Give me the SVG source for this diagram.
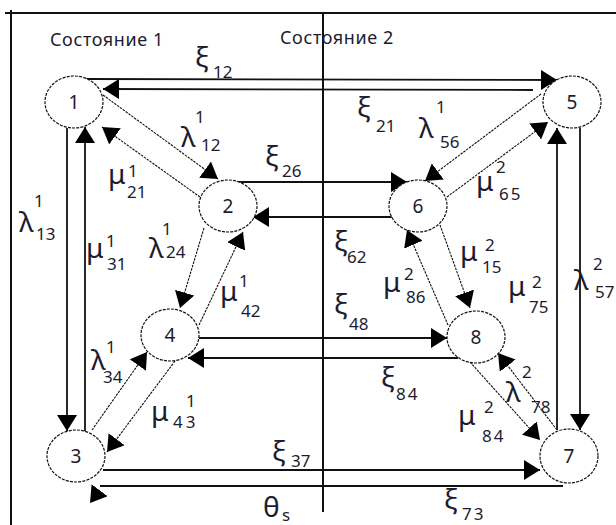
<svg xmlns="http://www.w3.org/2000/svg" width="616" height="525" viewBox="0 0 616 525">
<style>
.frame{stroke:#111;stroke-width:2;fill:none}
.ln{stroke:#111;stroke-width:1.8;fill:none}
.dg{stroke:#111;stroke-width:1.1;fill:none;stroke-dasharray:2.5 1}
.node ellipse{fill:#fff;stroke:#111;stroke-width:1.2;stroke-dasharray:3 1.2}
.node text{font-family:"Noto Sans","DejaVu Sans",sans-serif;font-size:19px;fill:#1c1c30;text-anchor:middle}
.t{font-family:"Noto Sans","DejaVu Sans",sans-serif;fill:#1c1c30}
.g{font-size:28px}
.s{font-size:17px}
.h{font-size:18px;letter-spacing:0.6px}
</style>
<defs>
<marker id="ah" viewBox="0 0 16 20" refX="16" refY="10" markerWidth="16" markerHeight="20" markerUnits="userSpaceOnUse" orient="auto">
<path d="M0,0 L16,10 L0,20 z" fill="#000"/>
</marker>
</defs>
<rect width="616" height="525" fill="#fff"/>
<g id="frame">
<line class="frame" x1="11" y1="10" x2="11" y2="525"/>
<line class="frame" x1="5" y1="13" x2="616" y2="13"/>
<line class="frame" x1="323" y1="13" x2="323" y2="512"/>
</g>
<g id="connectors">
<line class="ln" x1="86" y1="79" x2="557" y2="80" marker-end="url(#ah)"/>
<line class="ln" x1="533" y1="90" x2="103" y2="89" marker-end="url(#ah)"/>
<line class="ln" x1="67" y1="128" x2="67" y2="431" marker-end="url(#ah)"/>
<line class="ln" x1="85" y1="432" x2="85" y2="127" marker-end="url(#ah)"/>
<line class="ln" x1="557" y1="430" x2="557" y2="128" marker-end="url(#ah)"/>
<line class="ln" x1="580" y1="128" x2="580" y2="430" marker-end="url(#ah)"/>
<line class="ln" x1="230" y1="182" x2="407" y2="182" marker-end="url(#ah)"/>
<line class="ln" x1="392" y1="217" x2="253" y2="217" marker-end="url(#ah)"/>
<line class="ln" x1="199" y1="338" x2="447" y2="338" marker-end="url(#ah)"/>
<line class="ln" x1="458" y1="358" x2="188" y2="358" marker-end="url(#ah)"/>
<line class="ln" x1="103" y1="470" x2="540" y2="470" marker-end="url(#ah)"/>
<line class="ln" x1="563" y1="486" x2="100" y2="486"/>
<path d="M108,479 L90,503" stroke="none" fill="none" marker-end="url(#ah)"/>
<line class="dg" x1="103" y1="95" x2="218" y2="179" marker-end="url(#ah)"/>
<line class="dg" x1="200" y1="197" x2="102" y2="127" marker-end="url(#ah)"/>
<line class="dg" x1="204" y1="228" x2="180" y2="308" marker-end="url(#ah)"/>
<line class="dg" x1="199" y1="325" x2="243" y2="232" marker-end="url(#ah)"/>
<line class="dg" x1="541" y1="94" x2="425" y2="181" marker-end="url(#ah)"/>
<line class="dg" x1="447" y1="197" x2="548" y2="122" marker-end="url(#ah)"/>
<line class="dg" x1="440" y1="225" x2="470" y2="308" marker-end="url(#ah)"/>
<line class="dg" x1="448" y1="325" x2="407" y2="230" marker-end="url(#ah)"/>
<line class="dg" x1="92" y1="430" x2="147" y2="352" marker-end="url(#ah)"/>
<line class="dg" x1="175" y1="361" x2="107" y2="452" marker-end="url(#ah)"/>
<line class="dg" x1="470" y1="362" x2="540" y2="440" marker-end="url(#ah)"/>
<line class="dg" x1="557" y1="430" x2="498" y2="353" marker-end="url(#ah)"/>
</g>
<g id="n1" class="node"><ellipse cx="74" cy="102" rx="29" ry="26"/><text x="74" y="109">1</text></g>
<g id="n2" class="node"><ellipse cx="228" cy="206" rx="29" ry="26"/><text x="228" y="213">2</text></g>
<g id="n3" class="node"><ellipse cx="76" cy="456" rx="29" ry="26"/><text x="76" y="463">3</text></g>
<g id="n4" class="node"><ellipse cx="170" cy="335" rx="29" ry="26"/><text x="170" y="342">4</text></g>
<g id="n5" class="node"><ellipse cx="572" cy="102" rx="29" ry="26"/><text x="572" y="109">5</text></g>
<g id="n6" class="node"><ellipse cx="418" cy="206" rx="29" ry="26"/><text x="418" y="213">6</text></g>
<g id="n7" class="node"><ellipse cx="569" cy="456" rx="29" ry="27"/><text x="569" y="463">7</text></g>
<g id="n8" class="node"><ellipse cx="476" cy="337" rx="29" ry="26"/><text x="476" y="344">8</text></g>
<g id="labels" class="t">
<text class="h" x="50" y="46">Состояние 1</text>
<text class="h" x="280" y="44">Состояние 2</text>
<text class="g" x="195" y="67">ξ</text><text class="s" x="213" y="78">12</text>
<text class="g" x="357" y="117">ξ</text><text class="s" x="376" y="132">21</text>
<text class="g" x="419" y="138">λ</text><text class="s" x="436" y="113">1</text><text class="s" x="440" y="148">56</text>
<text class="g" x="181" y="147">λ</text><text class="s" x="195" y="123">1</text><text class="s" x="201" y="151">12</text>
<text class="g" x="265" y="166">ξ</text><text class="s" x="282" y="177">26</text>
<text class="g" x="108" y="184">μ</text><text class="s" x="128" y="177">1</text><text class="s" x="127" y="198">21</text>
<text class="g" x="19" y="232">λ</text><text class="s" x="34" y="207">1</text><text class="s" x="36" y="240">13</text>
<text class="g" x="86" y="258">μ</text><text class="s" x="106" y="247">1</text><text class="s" x="107" y="270">31</text>
<text class="g" x="149" y="258">λ</text><text class="s" x="162" y="235">1</text><text class="s" x="166" y="258">24</text>
<text class="g" x="220" y="301">μ</text><text class="s" x="239" y="287">1</text><text class="s" x="241" y="317">42</text>
<text class="g" x="91" y="370">λ</text><text class="s" x="106" y="353">1</text><text class="s" x="103" y="383">34</text>
<text class="g" x="151" y="421">μ</text><text class="s" x="186" y="407">1</text><text class="s" x="173" y="428" letter-spacing="3">43</text>
<text class="g" x="272" y="461">ξ</text><text class="s" x="291" y="467">37</text>
<text class="g" x="263" y="517">θ</text><text class="s" x="282" y="521">s</text>
<text class="g" x="444" y="509">ξ</text><text class="s" x="462" y="520" letter-spacing="2">73</text>
<text class="g" x="381" y="387">ξ</text><text class="s" x="396" y="400" letter-spacing="2">84</text>
<text class="g" x="458" y="425">μ</text><text class="s" x="484" y="413">2</text><text class="s" x="482" y="442" letter-spacing="2">84</text>
<text class="g" x="506" y="402">λ</text><text class="s" x="522" y="378">2</text><text class="s" x="531" y="413">78</text>
<text class="g" x="334" y="314">ξ</text><text class="s" x="349" y="330">48</text>
<text class="g" x="383" y="292">μ</text><text class="s" x="404" y="280">2</text><text class="s" x="406" y="303">86</text>
<text class="g" x="460" y="261">μ</text><text class="s" x="485" y="251">2</text><text class="s" x="482" y="273">15</text>
<text class="g" x="508" y="296">μ</text><text class="s" x="532" y="288">2</text><text class="s" x="529" y="313">75</text>
<text class="g" x="574" y="290">λ</text><text class="s" x="593" y="270">2</text><text class="s" x="595" y="298">57</text>
<text class="g" x="334" y="251">ξ</text><text class="s" x="347" y="263">62</text>
<text class="g" x="476" y="191">μ</text><text class="s" x="496" y="173">2</text><text class="s" x="499" y="200" letter-spacing="2">65</text>
</g>
</svg>
